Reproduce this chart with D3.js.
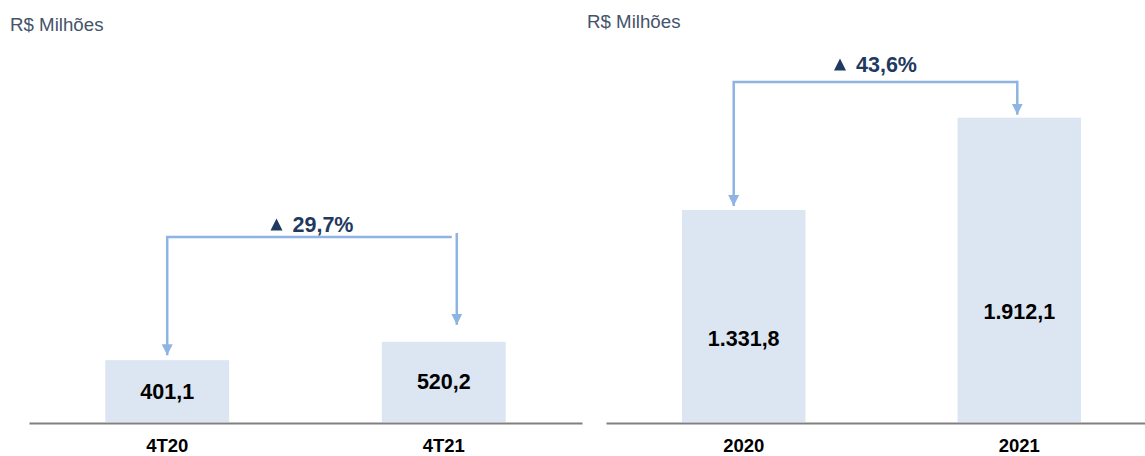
<!DOCTYPE html>
<html>
<head>
<meta charset="utf-8">
<script src="https://cdn.jsdelivr.net/npm/d3@7"></script>
<style>
  body { margin: 0; background: #fff; }
  svg { display: block; font-family: "Liberation Sans", Arial, sans-serif; }
</style>
</head>
<body>
<div id="chart"></div>
<script>
// Data
var unitLabel = "R$ Milhões";
var quarterCategories = ["4T20", "4T21"];
var quarterValues = [401.1, 520.2];
var quarterChange = "29,7%";
var yearCategories = ["2020", "2021"];
var yearValues = [1331.8, 1912.1];
var yearChange = "43,6%";

var svgWidth = 1145;
var svgHeight = 456;
var baseY = 422;

var ptBR = d3.formatLocale({ decimal: ",", thousands: ".", grouping: [3], currency: ["R$", ""] });
var fmt = ptBR.format(",.1f");

// Layout of each panel
var panels = [
    {
        cats: quarterCategories, vals: quarterValues, change: quarterChange,
        xRange: [29, 582], yTop: 52,
        header: [10, 31],
        bracketY: 237, labelY: 232, xShift: [0, 13], tipGap: [5, 17],
        hGap: 5, rise: 4, labelFrac: [0.5, 0.5]
    },
    {
        cats: yearCategories, vals: yearValues, change: yearChange,
        xRange: [606, 1157], yTop: 40,
        header: [587, 28],
        bracketY: 82, labelY: 72, xShift: [-10, -2], tipGap: [4, 3],
        hGap: 0, rise: 1.25, labelFrac: [0.396, 0.362]
    }
];

var svg = d3.select("#chart").append("svg")
    .attr("width", svgWidth)
    .attr("height", svgHeight);

// Arrowhead marker
svg.append("defs").append("marker")
    .attr("id", "arrow")
    .attr("markerUnits", "userSpaceOnUse")
    .attr("viewBox", "0 0 10 10")
    .attr("refX", 10).attr("refY", 5)
    .attr("markerWidth", 11).attr("markerHeight", 12)
    .attr("orient", "auto")
    .append("path")
    .attr("d", "M0,0 L10,5 L0,10 Z")
    .attr("fill", "#8db4e2");

panels.forEach(function (p) {

    var x = d3.scaleBand()
        .domain(p.cats)
        .range(p.xRange)
        .paddingInner(0.552)
        .paddingOuter(0.2757);

    var y = d3.scaleLinear()
        .domain([0, 2400])
        .range([baseY, p.yTop]);

    var g = svg.append("g");

    // Header
    g.append("text")
        .attr("x", p.header[0])
        .attr("y", p.header[1])
        .style("font-size", "18.7px")
        .style("fill", "#44546a")
        .text(unitLabel);

    // Bars
    g.selectAll("rect")
        .data(p.vals)
        .enter()
        .append("rect")
        .attr("x", (d, i) => x(p.cats[i]))
        .attr("y", d => y(d))
        .attr("width", x.bandwidth())
        .attr("height", d => baseY - y(d))
        .attr("fill", "#dce6f2");

    // Value labels
    g.selectAll(".val")
        .data(p.vals)
        .enter()
        .append("text")
        .attr("class", "val")
        .attr("x", (d, i) => x(p.cats[i]) + x.bandwidth() / 2)
        .attr("y", (d, i) => baseY - (baseY - y(d)) * p.labelFrac[i])
        .attr("dy", "0.35em")
        .style("text-anchor", "middle")
        .style("font-size", "21.5px")
        .style("font-weight", "bold")
        .style("fill", "#000")
        .text(d => fmt(d));

    // Axis
    var axis = g.append("g")
        .attr("transform", `translate(0, ${baseY + 1})`)
        .call(d3.axisBottom(x).tickSize(0).tickPadding(16));
    axis.select(".domain")
        .attr("stroke", "#808080")
        .attr("stroke-width", 2.2);
    axis.selectAll("text")
        .style("font-family", "\"Liberation Sans\", Arial, sans-serif")
        .style("font-size", "18.5px")
        .style("font-weight", "bold")
        .style("fill", "#000");

    // Growth bracket
    var xL = x(p.cats[0]) + x.bandwidth() / 2 + p.xShift[0];
    var xR = x(p.cats[1]) + x.bandwidth() / 2 + p.xShift[1];
    var tipL = y(p.vals[0]) - p.tipGap[0];
    var tipR = y(p.vals[1]) - p.tipGap[1];
    var line = d3.line();

    g.append("path")
        .attr("d", line([[xR - p.hGap, p.bracketY], [xL, p.bracketY], [xL, tipL]]))
        .attr("fill", "none")
        .attr("stroke", "#8db4e2")
        .attr("stroke-width", 2.5)
        .attr("marker-end", "url(#arrow)");

    g.append("path")
        .attr("d", line([[xR, p.bracketY - p.rise], [xR, tipR]]))
        .attr("fill", "none")
        .attr("stroke", "#8db4e2")
        .attr("stroke-width", 2.5)
        .attr("marker-end", "url(#arrow)");

    // Change label: triangle + text, centred on the bracket
    var label = g.append("g");
    var txt = label.append("text")
        .attr("x", 0)
        .attr("y", 0)
        .style("font-size", "21.5px")
        .style("font-weight", "bold")
        .style("fill", "#1f3a60")
        .text(p.change);
    var tw = txt.node().getComputedTextLength();
    var triW = 12, gap = 10;
    txt.attr("x", triW + gap);
    label.append("path")
        .attr("d", `M0,0 L${triW},0 L${triW / 2},-12 Z`)
        .attr("transform", "translate(0,-1.5)")
        .attr("fill", "#1f3a60");
    var total = triW + gap + tw;
    label.attr("transform", `translate(${(xL + xR) / 2 - total / 2}, ${p.labelY})`);
});
</script>
</body>
</html>
